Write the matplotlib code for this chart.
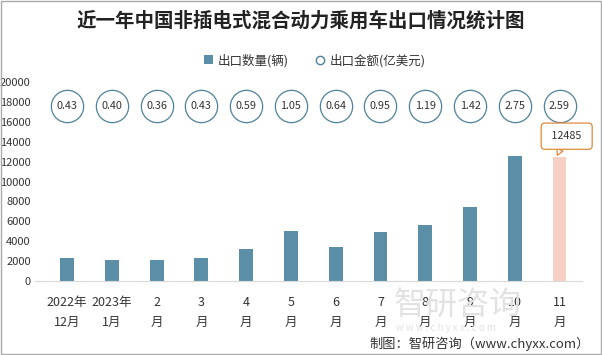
import matplotlib.pyplot as plt
from matplotlib.lines import Line2D
from matplotlib.patches import Patch
import numpy as np

plt.rcParams['font.family'] = ['Noto Sans CJK SC', 'DejaVu Sans']

months = ['2022年\n12月', '2023年\n1月', '2\n月', '3\n月', '4\n月', '5\n月',
          '6\n月', '7\n月', '8\n月', '9\n月', '10\n月', '11\n月']
volume = [2320, 2120, 2120, 2320, 3230, 5040, 3430, 4940, 5650, 7460, 12550, 12485]
amount = ['0.43', '0.40', '0.36', '0.43', '0.59', '1.05', '0.64', '0.95', '1.19', '1.42', '2.75', '2.59']

bar_color = '#5b8fa8'
hi_color = '#f7d0c5'
orange = '#e08a3c'

fig = plt.figure(figsize=(6.02, 3.55), dpi=100)
ax = fig.add_axes([0.058, 0.208, 0.9086, 0.561])

x = np.arange(len(months))
colors = [bar_color] * (len(months) - 1) + [hi_color]
ax.bar(x, volume, width=0.31, color=colors, zorder=2)

# amount shown as circled labels in a row above the bars
circle_y = 17600
ax.scatter(x, [circle_y] * len(x), s=540, facecolor='white', edgecolor='#4f8199',
           linewidth=0.9, zorder=3)
for xi, a in zip(x, amount):
    ax.text(xi, circle_y, a, ha='center', va='center', fontsize=7.8, color='#333333', zorder=4)

# callout for latest month
ax.annotate(' ' + str(volume[-1]) + ' ', xy=(x[-1] - 0.05, volume[-1] + 150), xytext=(x[-1] + 0.16, 14560),
            ha='center', va='center', fontsize=7.8, color='#333333',
            bbox=dict(boxstyle='round,pad=0.75,rounding_size=0.35', fc='white', ec=orange, lw=0.9),
            arrowprops=dict(arrowstyle='wedge,tail_width=0.6,shrink_factor=0.5', fc='white', ec=orange,
                            lw=0.9, shrinkA=0, shrinkB=0),
            zorder=5)

ax.set_xlim(-0.72, 11.5)
ax.set_ylim(0, 20000)
ax.set_yticks(range(0, 20001, 2000))
ax.set_xticks(x)
ax.set_xticklabels(months, fontsize=9, linespacing=1.6)
ax.tick_params(axis='y', labelsize=8, length=0, pad=3, colors='#333333')
ax.tick_params(axis='x', length=0, pad=11, colors='#333333')
for s in ['top', 'right', 'left']:
    ax.spines[s].set_visible(False)
ax.spines['bottom'].set_color('#d9d9d9')

handles = [Patch(facecolor=bar_color, label='出口数量(辆)'),
           Line2D([], [], marker='o', ls='none', mfc='white', mec='#4f8199', ms=6, label='出口金额(亿美元)')]
fig.legend(handles=handles, loc='center', bbox_to_anchor=(0.523, 0.83), ncol=2, frameon=False,
           fontsize=9, handlelength=0.7, handletextpad=0.4, columnspacing=2.2, labelcolor='#333333')

fig.text(0.5, 0.94, '近一年中国非插电式混合动力乘用车出口情况统计图', ha='center', va='center',
         fontsize=14, fontweight='bold', color='#222222')

# watermark
fig.text(0.76, 0.14, '智研咨询', ha='center', va='center', fontsize=23, color='#e2e2e2', zorder=0)
fig.text(0.74, 0.075, 'w w w . c h y x x . c o m', ha='center', va='center', fontsize=7,
         color='#e2e2e2', zorder=0)

fig.text(0.98, 0.032, '制图：智研咨询（www.chyxx.com）', ha='right', va='center',
         fontsize=9.5, color='#333333')

fig.patches.append(plt.Rectangle((0.0015, 0.002), 0.997, 0.996, transform=fig.transFigure,
                                 fill=False, ec='#aaaaaa', lw=1))

fig.savefig('out.png', dpi=100)
